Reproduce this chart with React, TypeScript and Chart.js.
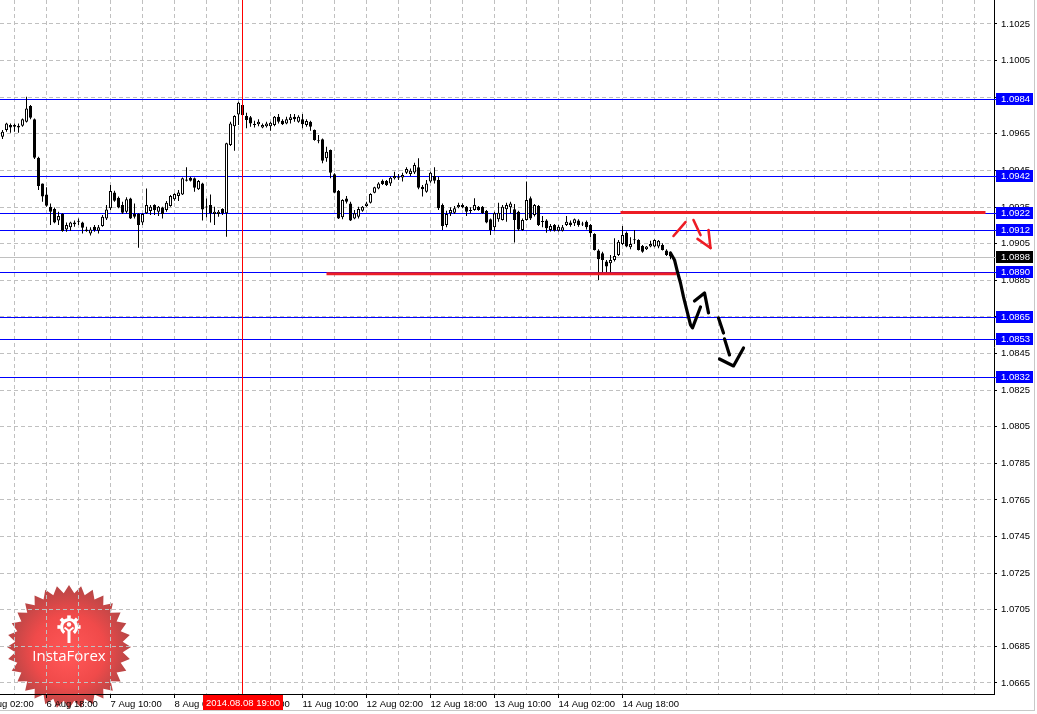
import React, { useEffect, useRef } from 'react';
import { Chart, registerables } from 'chart.js';

Chart.register(...registerables);

// ---------- data (EURUSD H1, 6–14 Aug 2014) ----------
const opens = [
  1.09634, 1.09671, 1.09698, 1.09698, 1.09694, 1.09694, 1.09716, 1.09802, 1.09729, 1.09520,
  1.09379, 1.09319, 1.09252, 1.09239, 1.09176, 1.09212, 1.09128, 1.09139, 1.09156, 1.09172,
  1.09166, 1.09128, 1.09106, 1.09143, 1.09121, 1.09146, 1.09188, 1.09243, 1.09330, 1.09301,
  1.09261, 1.09225, 1.09297, 1.09212, 1.09212, 1.09165, 1.09216, 1.09228, 1.09261, 1.09225,
  1.09248, 1.09234, 1.09256, 1.09292, 1.09310, 1.09319, 1.09401, 1.09410, 1.09407, 1.09347,
  1.09379, 1.09252, 1.09261, 1.09212, 1.09212, 1.09239, 1.09216, 1.09589, 1.09692, 1.09756,
  1.09807, 1.09747, 1.09740, 1.09703, 1.09703, 1.09685, 1.09692, 1.09692, 1.09698, 1.09743,
  1.09722, 1.09707, 1.09725, 1.09743, 1.09716, 1.09729, 1.09698, 1.09716, 1.09671, 1.09612,
  1.09621, 1.09516, 1.09561, 1.09429, 1.09338, 1.09194, 1.09297, 1.09270, 1.09188, 1.09197,
  1.09230, 1.09256, 1.09274, 1.09328, 1.09352, 1.09394, 1.09392, 1.09379, 1.09407, 1.09412,
  1.09412, 1.09438, 1.09430, 1.09439, 1.09467, 1.09361, 1.09334, 1.09389, 1.09419, 1.09398,
  1.09261, 1.09152, 1.09216, 1.09219, 1.09249, 1.09261, 1.09252, 1.09230, 1.09234, 1.09252,
  1.09252, 1.09228, 1.09183, 1.09139, 1.09183, 1.09179, 1.09238, 1.09249, 1.09238, 1.09225,
  1.09125, 1.09179, 1.09298, 1.09207, 1.09256, 1.09170, 1.09176, 1.09125, 1.09152, 1.09121,
  1.09121, 1.09152, 1.09165, 1.09161, 1.09176, 1.09157, 1.09170, 1.09152, 1.09103, 1.09012,
  1.08997, 1.08952, 1.08943, 1.08961, 1.08988, 1.09048, 1.09110, 1.09030, 1.09070, 1.09070,
  1.09037, 1.09019, 1.09034, 1.09034, 1.09034, 1.09043, 1.09012, 1.09001,
];
const highs = [
  1.09671, 1.09711, 1.09707, 1.09707, 1.09707, 1.09734, 1.09853, 1.09807, 1.09734, 1.09525,
  1.09379, 1.09358, 1.09270, 1.09248, 1.09225, 1.09216, 1.09165, 1.09170, 1.09176, 1.09188,
  1.09170, 1.09143, 1.09139, 1.09152, 1.09152, 1.09207, 1.09261, 1.09370, 1.09339, 1.09307,
  1.09279, 1.09303, 1.09301, 1.09270, 1.09216, 1.09216, 1.09352, 1.09261, 1.09265, 1.09256,
  1.09252, 1.09283, 1.09316, 1.09325, 1.09343, 1.09412, 1.09467, 1.09416, 1.09412, 1.09398,
  1.09383, 1.09297, 1.09319, 1.09252, 1.09234, 1.09243, 1.09601, 1.09716, 1.09752, 1.09825,
  1.09816, 1.09765, 1.09747, 1.09722, 1.09729, 1.09707, 1.09716, 1.09716, 1.09747, 1.09758,
  1.09729, 1.09743, 1.09758, 1.09758, 1.09752, 1.09758, 1.09729, 1.09722, 1.09674, 1.09643,
  1.09625, 1.09580, 1.09565, 1.09434, 1.09343, 1.09292, 1.09310, 1.09279, 1.09234, 1.09252,
  1.09256, 1.09279, 1.09325, 1.09361, 1.09385, 1.09401, 1.09398, 1.09416, 1.09443, 1.09430,
  1.09438, 1.09467, 1.09461, 1.09492, 1.09516, 1.09370, 1.09398, 1.09443, 1.09467, 1.09416,
  1.09270, 1.09230, 1.09249, 1.09256, 1.09274, 1.09270, 1.09256, 1.09249, 1.09298, 1.09256,
  1.09256, 1.09234, 1.09188, 1.09225, 1.09274, 1.09261, 1.09274, 1.09279, 1.09267, 1.09230,
  1.09188, 1.09389, 1.09307, 1.09267, 1.09261, 1.09201, 1.09183, 1.09157, 1.09157, 1.09152,
  1.09152, 1.09201, 1.09176, 1.09188, 1.09183, 1.09170, 1.09176, 1.09157, 1.09107, 1.09019,
  1.09006, 1.08961, 1.08988, 1.09079, 1.09070, 1.09147, 1.09116, 1.09085, 1.09125, 1.09074,
  1.09043, 1.09037, 1.09066, 1.09074, 1.09070, 1.09052, 1.09019, 1.09006,
];
const lows = [
  1.09622, 1.09662, 1.09656, 1.09662, 1.09656, 1.09689, 1.09712, 1.09729, 1.09512, 1.09343,
  1.09279, 1.09252, 1.09152, 1.09161, 1.09152, 1.09115, 1.09115, 1.09121, 1.09143, 1.09152,
  1.09106, 1.09115, 1.09094, 1.09115, 1.09106, 1.09143, 1.09179, 1.09234, 1.09279, 1.09243,
  1.09212, 1.09216, 1.09185, 1.09188, 1.09028, 1.09152, 1.09212, 1.09207, 1.09207, 1.09201,
  1.09188, 1.09225, 1.09252, 1.09285, 1.09283, 1.09316, 1.09389, 1.09389, 1.09334, 1.09343,
  1.09176, 1.09194, 1.09165, 1.09152, 1.09197, 1.09207, 1.09088, 1.09583, 1.09558, 1.09698,
  1.09743, 1.09680, 1.09689, 1.09685, 1.09692, 1.09680, 1.09685, 1.09667, 1.09692, 1.09707,
  1.09698, 1.09703, 1.09707, 1.09716, 1.09711, 1.09680, 1.09689, 1.09667, 1.09612, 1.09598,
  1.09489, 1.09498, 1.09407, 1.09325, 1.09185, 1.09183, 1.09270, 1.09174, 1.09183, 1.09188,
  1.09225, 1.09252, 1.09270, 1.09325, 1.09347, 1.09370, 1.09365, 1.09365, 1.09401, 1.09398,
  1.09389, 1.09430, 1.09419, 1.09430, 1.09347, 1.09307, 1.09328, 1.09383, 1.09379, 1.09234,
  1.09125, 1.09139, 1.09201, 1.09212, 1.09243, 1.09243, 1.09201, 1.09216, 1.09230, 1.09230,
  1.09212, 1.09161, 1.09097, 1.09121, 1.09170, 1.09176, 1.09170, 1.09216, 1.09056, 1.09121,
  1.09121, 1.09176, 1.09179, 1.09198, 1.09147, 1.09139, 1.09110, 1.09116, 1.09116, 1.09116,
  1.09116, 1.09147, 1.09143, 1.09147, 1.09143, 1.09147, 1.09128, 1.09085, 1.09012, 1.08852,
  1.08892, 1.08892, 1.08892, 1.08952, 1.08983, 1.09043, 1.09030, 1.09019, 1.09048, 1.09012,
  1.09001, 1.09016, 1.09030, 1.09030, 1.09025, 1.09012, 1.08983, 1.08965,
];
const closes = [
  1.09662, 1.09707, 1.09685, 1.09689, 1.09685, 1.09729, 1.09789, 1.09738, 1.09520, 1.09365,
  1.09307, 1.09257, 1.09225, 1.09165, 1.09201, 1.09119, 1.09152, 1.09165, 1.09165, 1.09170,
  1.09137, 1.09119, 1.09128, 1.09125, 1.09139, 1.09197, 1.09237, 1.09338, 1.09285, 1.09248,
  1.09219, 1.09292, 1.09188, 1.09197, 1.09152, 1.09212, 1.09261, 1.09252, 1.09234, 1.09252,
  1.09212, 1.09274, 1.09310, 1.09321, 1.09330, 1.09407, 1.09394, 1.09394, 1.09356, 1.09392,
  1.09237, 1.09247, 1.09216, 1.09225, 1.09225, 1.09216, 1.09598, 1.09707, 1.09747, 1.09820,
  1.09752, 1.09725, 1.09707, 1.09698, 1.09716, 1.09698, 1.09707, 1.09711, 1.09743, 1.09716,
  1.09703, 1.09729, 1.09740, 1.09729, 1.09743, 1.09703, 1.09720, 1.09689, 1.09616, 1.09610,
  1.09503, 1.09552, 1.09438, 1.09328, 1.09188, 1.09288, 1.09279, 1.09176, 1.09216, 1.09239,
  1.09252, 1.09270, 1.09321, 1.09358, 1.09379, 1.09376, 1.09370, 1.09410, 1.09419, 1.09407,
  1.09425, 1.09458, 1.09449, 1.09480, 1.09356, 1.09347, 1.09379, 1.09438, 1.09394, 1.09243,
  1.09146, 1.09212, 1.09234, 1.09243, 1.09261, 1.09249, 1.09225, 1.09228, 1.09261, 1.09234,
  1.09216, 1.09165, 1.09125, 1.09216, 1.09219, 1.09252, 1.09261, 1.09270, 1.09179, 1.09128,
  1.09179, 1.09289, 1.09188, 1.09261, 1.09152, 1.09168, 1.09134, 1.09147, 1.09121, 1.09143,
  1.09139, 1.09170, 1.09152, 1.09183, 1.09152, 1.09155, 1.09139, 1.09107, 1.09016, 1.08965,
  1.08961, 1.08925, 1.08961, 1.08983, 1.09061, 1.09097, 1.09034, 1.09048, 1.09068, 1.09016,
  1.09006, 1.09034, 1.09048, 1.09070, 1.09066, 1.09016, 1.08988, 1.08980,
];

// price axis
const yTickValues = [
  1.0665, 1.0685, 1.0705, 1.0725, 1.0745, 1.0765, 1.0785, 1.0805, 1.0825, 1.0845,
  1.0865, 1.0885, 1.0905, 1.0925, 1.0945, 1.0965, 1.0985, 1.1005, 1.1025,
];
const yMin = 1.065899;
const yMax = 1.103811;

// time axis (one slot per hourly bar)
const xGridSlots = [
  -5, 3, 11, 19, 27, 35, 43, 51, 59, 67, 75, 83, 91, 99, 107, 115, 123, 131, 139, 147,
  155, 163, 171, 179, 187, 195, 203, 211, 219, 227, 235, 243,
];
const xLabelSlots = [-5, 11, 27, 43, 59, 75, 91, 107, 123, 139, 155];
const xLabelTexts = [
  '6 Aug 02:00', '6 Aug 18:00', '7 Aug 10:00', '8 Aug 02:00', '8 Aug 18:00', '11 Aug 10:00',
  '12 Aug 02:00', '12 Aug 18:00', '13 Aug 10:00', '14 Aug 02:00', '14 Aug 18:00',
];
const xMin = -0.625;
const xMax = 247.875;

// horizontal levels (line price as drawn, label as shown on the axis)
const levelValues = [1.0984, 1.0942, 1.09218, 1.09125, 1.08895, 1.0865, 1.0853, 1.08322];
const levelLabels = ['1.0984', '1.0942', '1.0922', '1.0912', '1.0890', '1.0865', '1.0853', '1.0832'];
const bidPrice = 1.08978;
const bidLabel = '1.0898';

// vertical marker
const markerSlot = 60;
const markerLabel = '2014.08.08 19:00';

// drawn red support/resistance segments: [fromSlot, toSlot, price]
const redSegments = [
  [154.5, 245.75, 1.0922],
  [81, 168.5, 1.08885],
];

// hand-drawn arrows (slot, price)
const blackStrokes = [
  [[167, 1.08999], [168, 1.08961], [168.75, 1.08895], [169.5, 1.08835], [170.25, 1.08759], [171.25, 1.08672], [172, 1.08606], [172.5, 1.0859], [174.5, 1.08704]],
  [[173, 1.08737], [175.5, 1.08781], [176.5, 1.08672]],
  [[179, 1.08644], [180.25, 1.08562]],
  [[180.5, 1.0853], [181.75, 1.08442]],
  [[179.25, 1.0842], [182.75, 1.08382], [185.25, 1.0848]],
];
const redStrokes = [
  [[167.75, 1.09092], [170.75, 1.09168]],
  [[172.75, 1.09179], [174.5, 1.09097]],
  [[173.75, 1.09076], [177, 1.09026]],
  [[176.5, 1.09125], [177, 1.09026]],
];

const AXIS_FAMILY = '"Liberation Sans", Arial, sans-serif';
const AXIS_SIZE = 9.5;
const LEVEL_COLOR = '#0000ff';

function drawLogo(ctx: CanvasRenderingContext2D) {
  const cx = 69, cy = 647, rOut = 62, rIn = 54, n = 32;
  ctx.save();
  ctx.beginPath();
  for (let i = 0; i < n * 2; i++) {
    const r = i % 2 === 0 ? rOut : rIn;
    const a = -Math.PI / 2 + (i * Math.PI) / n;
    const px = cx + r * Math.cos(a);
    const py = cy + r * Math.sin(a);
    if (i === 0) ctx.moveTo(px, py); else ctx.lineTo(px, py);
  }
  ctx.closePath();
  const g = ctx.createRadialGradient(cx, cy + 8, 4, cx, cy, rOut);
  g.addColorStop(0, '#ff5656');
  g.addColorStop(0.55, '#f04a4a');
  g.addColorStop(1, '#b64646');
  ctx.fillStyle = g;
  ctx.fill();

  // icon
  const ix = 69, iy = 627;
  ctx.strokeStyle = '#ffffff';
  ctx.fillStyle = '#ffffff';
  ctx.lineWidth = 3.2;
  ctx.beginPath();
  ctx.arc(ix, iy, 7.5, Math.PI * 0.72, Math.PI * 2.28);
  ctx.stroke();
  for (let k = 0; k < 8; k++) {
    const a = -Math.PI / 2 + (k * Math.PI) / 4;
    if (Math.sin(a) > 0.6) continue;
    ctx.save();
    ctx.translate(ix + 10 * Math.cos(a), iy + 10 * Math.sin(a));
    ctx.rotate(a);
    ctx.fillRect(-1.6, -1.8, 3.2, 3.6);
    ctx.restore();
  }
  ctx.beginPath();
  ctx.arc(ix, iy - 2.5, 2.2, 0, Math.PI * 2);
  ctx.fill();
  ctx.lineWidth = 2;
  ctx.beginPath();
  ctx.moveTo(ix - 4.5, iy + 0.5);
  ctx.lineTo(ix, iy + 4);
  ctx.lineTo(ix + 4.5, iy + 0.5);
  ctx.stroke();
  ctx.fillRect(ix - 1.5, iy + 3, 3, 13);

  ctx.font = '15px "Open Sans", "Liberation Sans", sans-serif';
  ctx.textAlign = 'center';
  ctx.textBaseline = 'middle';
  ctx.fillText('InstaForex', cx, 657);
  ctx.restore();
}

const overlayPlugin = {
  id: 'mt4Overlay',
  beforeDraw(chart: any) {
    drawLogo(chart.ctx);
  },
  beforeDatasetsDraw(chart: any) {
    // horizontal price levels, snapped to whole pixels
    const ctx: CanvasRenderingContext2D = chart.ctx;
    const area = chart.chartArea;
    const ys = chart.scales.y;
    ctx.save();
    const hline = (v: number, color: string) => {
      const y = Math.round(ys.getPixelForValue(v));
      ctx.fillStyle = color;
      ctx.fillRect(area.left, y, area.right - area.left + 3, 1);
    };
    hline(bidPrice, '#c0c0c0');
    levelValues.forEach((v) => hline(v, LEVEL_COLOR));
    ctx.restore();
  },
  afterDraw(chart: any) {
    const ctx: CanvasRenderingContext2D = chart.ctx;
    const area = chart.chartArea;
    const ys = chart.scales.y;
    const xs = chart.scales.x;
    ctx.save();
    ctx.font = `${AXIS_SIZE}px ${AXIS_FAMILY}`;
    ctx.textBaseline = 'middle';
    ctx.textAlign = 'left';
    const boxLeft = area.right + 2;
    const boxW = 37;
    const boxH = 12;
    const drawBox = (v: number, text: string, bg: string) => {
      const y = Math.round(ys.getPixelForValue(v));
      ctx.fillStyle = bg;
      ctx.fillRect(boxLeft, y - 6, boxW, boxH);
      ctx.fillStyle = '#ffffff';
      ctx.fillText(text, area.right + 7, y + 0.5);
    };
    levelValues.forEach((v, i) => drawBox(v, levelLabels[i], LEVEL_COLOR));
    drawBox(bidPrice, bidLabel, '#000000');

    // date marker label
    const mx = xs.getPixelForValue(markerSlot);
    ctx.fillStyle = '#ff0000';
    ctx.fillRect(Math.round(mx) - 40, area.bottom + 1, 80, 15);
    ctx.fillStyle = '#ffffff';
    ctx.textAlign = 'center';
    ctx.fillText(markerLabel, Math.round(mx), area.bottom + 9);

    // window frame
    ctx.fillStyle = '#c8c8c8';
    ctx.fillRect(1034, 0, 1, 711);
    ctx.fillRect(0, 710, 1035, 1);
    ctx.restore();
  },
};

export default function App() {
  const canvasRef = useRef<HTMLCanvasElement | null>(null);

  useEffect(() => {
    const canvas = canvasRef.current;
    if (!canvas) return;

    const slots = opens.map((_, i) => i);
    const wickData = slots.map((i) => ({ x: i, y: [lows[i], highs[i]] }));
    const bodyData = slots.map((i) => ({ x: i, y: [opens[i], closes[i]] }));
    const bodyFill = slots.map((i) => (closes[i] >= opens[i] ? '#ffffff' : '#000000'));

    const lineBase = {
      type: 'line' as const,
      pointRadius: 0,
      pointHoverRadius: 0,
      tension: 0,
      fill: false,
      spanGaps: false,
    };

    const datasets: any[] = [];
    datasets.push({
      type: 'bar',
      data: wickData,
      backgroundColor: '#000000',
      borderWidth: 0,
      grouped: false,
      barPercentage: 1,
      categoryPercentage: 1,
      maxBarThickness: 1,
      inflateAmount: 0,
      order: 12,
    });
    datasets.push({
      type: 'bar',
      data: bodyData,
      backgroundColor: bodyFill,
      borderColor: '#000000',
      borderWidth: 1,
      borderSkipped: false,
      grouped: false,
      barPercentage: 1,
      categoryPercentage: 1,
      maxBarThickness: 3,
      minBarLength: 1,
      inflateAmount: 0,
      order: 11,
    });
    datasets.push({
      ...lineBase,
      data: [{ x: markerSlot, y: yMin - 0.001 }, { x: markerSlot, y: yMax + 0.001 }],
      borderColor: '#ff0000',
      borderWidth: 1,
      order: 3,
    });
    redSegments.forEach((s) => {
      datasets.push({
        ...lineBase,
        data: [{ x: s[0], y: s[2] }, { x: s[1], y: s[2] }],
        borderColor: '#ed1c24',
        borderWidth: 3,
        order: 2,
      });
    });
    blackStrokes.forEach((st) => {
      datasets.push({
        ...lineBase,
        data: st.map((p) => ({ x: p[0], y: p[1] })),
        borderColor: '#000000',
        borderWidth: 3.2,
        borderCapStyle: 'round',
        borderJoinStyle: 'round',
        order: 1,
      });
    });
    redStrokes.forEach((st) => {
      datasets.push({
        ...lineBase,
        data: st.map((p) => ({ x: p[0], y: p[1] })),
        borderColor: '#ed1c24',
        borderWidth: 2.6,
        borderCapStyle: 'round',
        borderJoinStyle: 'round',
        order: 1,
      });
    });

    const chart = new Chart(canvas, {
      type: 'bar',
      data: { datasets },
      options: {
        responsive: false,
        maintainAspectRatio: false,
        devicePixelRatio: 1,
        animation: false,
        events: [],
        layout: { padding: 0 },
        plugins: { legend: { display: false }, tooltip: { enabled: false } },
        scales: {
          x: {
            type: 'linear',
            min: xMin,
            max: xMax,
            offset: false,
            afterBuildTicks: (s: any) => {
              s.ticks = xGridSlots.map((v) => ({ value: v }));
            },
            afterFit: (s: any) => {
              s.height = 20;
              s.paddingLeft = 0;
              s.paddingRight = 0;
            },
            grid: {
              color: '#c0c0c0',
              lineWidth: 1,
              offset: false,
              drawTicks: true,
              tickLength: 4,
              tickColor: (c: any) =>
                c.tick && xLabelSlots.indexOf(c.tick.value) >= 0 ? '#000000' : 'rgba(0,0,0,0)',
            },
            border: { color: '#000000', width: 1, dash: [4, 3] },
            ticks: {
              autoSkip: false,
              maxRotation: 0,
              minRotation: 0,
              align: 'start',
              padding: 1,
              color: '#000000',
              font: { family: AXIS_FAMILY, size: AXIS_SIZE },
              callback: (v: any) => {
                const k = xLabelSlots.indexOf(Number(v));
                return k >= 0 ? xLabelTexts[k] : '';
              },
            },
          },
          y: {
            type: 'linear',
            position: 'right',
            min: yMin,
            max: yMax,
            afterBuildTicks: (s: any) => {
              s.ticks = yTickValues.map((v) => ({ value: v }));
            },
            afterFit: (s: any) => {
              s.width = 43;
              s.paddingTop = 0;
              s.paddingBottom = 0;
            },
            grid: {
              color: '#c0c0c0',
              lineWidth: 1,
              drawTicks: true,
              tickLength: 3,
              tickColor: '#000000',
            },
            border: { color: '#000000', width: 1, dash: [4, 3] },
            ticks: {
              padding: 4,
              color: '#000000',
              font: { family: AXIS_FAMILY, size: AXIS_SIZE },
              callback: (v: any) => Number(v).toFixed(4),
            },
          },
        },
      } as any,
      plugins: [overlayPlugin],
    });

    return () => {
      chart.destroy();
    };
  }, []);

  return (
    <div style={{ position: 'fixed', left: 0, top: 0, width: 1037, height: 714, background: '#ffffff' }}>
      <canvas ref={canvasRef} width={1037} height={714} style={{ display: 'block', width: 1037, height: 714 }} />
    </div>
  );
}
